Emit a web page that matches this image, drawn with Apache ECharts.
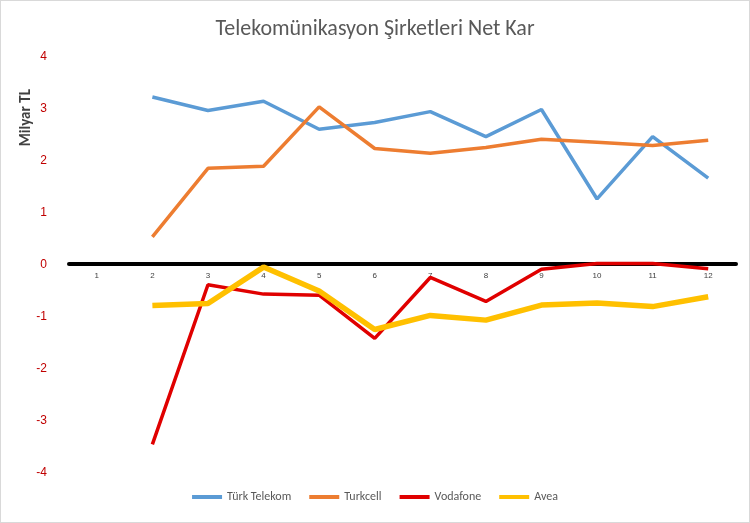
<!DOCTYPE html>
<html><head><meta charset="utf-8">
<script src="https://cdn.jsdelivr.net/npm/echarts@6/dist/echarts.min.js"></script>
<style>html,body{margin:0;padding:0;background:#fff}#c{width:750px;height:523px;box-sizing:border-box;border:1px solid #d9d9d9}</style>
</head><body><div id="c"></div>
<script>
const categories = ['1','2','3','4','5','6','7','8','9','10','11','12'];
const turkTelekom = [null,3.23,2.97,3.15,2.61,2.74,2.95,2.47,2.99,1.27,2.47,1.67];
const turkcell = [null,0.54,1.86,1.90,3.04,2.24,2.15,2.26,2.42,2.36,2.30,2.40];
const vodafone = [null,-3.45,-0.38,-0.56,-0.58,-1.41,-0.24,-0.70,-0.08,0.03,0.03,-0.07];
const avea = [null,-0.78,-0.74,-0.04,-0.50,-1.24,-0.97,-1.06,-0.77,-0.73,-0.80,-0.61];
const chart = echarts.init(document.getElementById('c'));
const font = 'Calibri, Carlito, "Open Sans", sans-serif';
function s(name, data, color, w){return {name, type:'line', data, symbol:'none', lineStyle:{color, width:w}, itemStyle:{color}};}
chart.setOption({
  animation:false,
  title:{text:'Telekomünikasyon Şirketleri Net Kar', left:'center', top:12, textStyle:{fontFamily:font, fontSize:22, fontWeight:'normal', color:'#595959'}},
  legend:{bottom:14, itemWidth:30, itemHeight:4, icon:'rect', itemGap:18, textStyle:{fontFamily:font, fontSize:12, color:'#595959'}},
  graphic:[{type:'text', left:18, top:88, rotation:Math.PI/2, style:{text:'Milyar TL', font:'bold 15px '+font, fill:'#404040'}}],
  grid:{left:68, right:13, top:56, bottom:49},
  xAxis:{type:'category', data:categories, offset:-209, axisLine:{onZero:false, lineStyle:{color:'#000', width:4}}, axisTick:{show:false}, axisLabel:{fontSize:8, color:'#404040', margin:8}},
  yAxis:{type:'value', min:-4, max:4, interval:1, splitLine:{show:false}, axisLine:{show:false}, axisLabel:{color:'#c00000', fontSize:12, margin:22}},
  series:[s('Türk Telekom',turkTelekom,'#5b9bd5',3.5), s('Turkcell',turkcell,'#ed7d31',3.5), s('Vodafone',vodafone,'#e00000',3.5), s('Avea',avea,'#ffc000',5.5)]
});
</script></body></html>
